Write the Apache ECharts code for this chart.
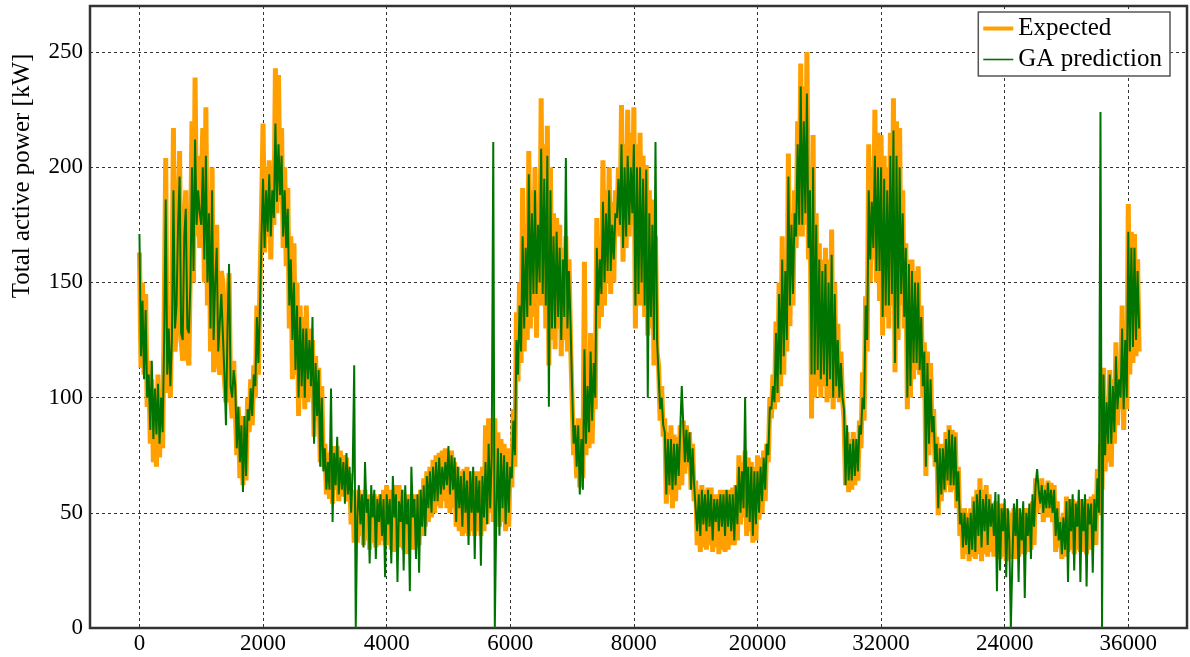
<!DOCTYPE html>
<html>
<head>
<meta charset="utf-8">
<script src="https://cdn.jsdelivr.net/npm/echarts@6/dist/echarts.min.js"></script>
<style>
  html, body { margin: 0; padding: 0; background: #fff; }
  #chart { width: 1190px; height: 657px; }
</style>
</head>
<body>
<div id="chart"></div>
<script>
// sample spacing on the x axis
var step = 25;

var expected = [
  163,113,150,110,145,96,116,80,108,72,102,70,110,74,100,78,135,204,102,140,
  100,140,217,120,130,180,207,125,116,175,190,118,114,160,220,150,239,170,205,165,
  165,217,150,226,140,190,120,200,111,160,175,115,110,155,150,108,98,140,154,100,
  91,116,95,75,96,65,92,62,90,64,100,85,108,88,114,100,140,110,150,180,
  219,163,200,170,203,160,195,175,243,180,240,185,217,165,200,157,191,130,170,108,
  167,110,150,92,140,100,135,95,140,98,130,100,125,83,118,90,113,72,105,70,
  80,58,76,56,77,54,79,60,79,55,77,57,75,58,74,55,67,45,60,37,
  55,37,60,40,58,36,60,38,58,34,57,37,58,35,57,36,58,38,60,36,
  62,36,60,34,60,33,62,36,62,35,60,34,58,32,58,35,57,34,58,35,
  56,36,60,40,65,44,68,46,70,48,73,50,75,53,76,52,77,55,78,52,
  75,50,77,52,72,44,70,42,68,40,69,41,70,40,68,42,66,40,68,42,
  68,40,70,42,88,45,91,50,86,46,91,45,85,44,82,46,80,42,78,44,
  78,61,95,70,137,107,150,115,191,120,175,125,207,130,190,135,200,126,185,140,
  230,140,210,130,218,114,200,125,180,121,178,130,175,118,165,125,170,120,160,125,
  100,75,85,65,91,61,85,65,159,75,110,78,128,80,120,95,178,130,170,135,
  203,140,190,150,200,145,185,150,190,173,200,170,227,159,210,165,225,170,215,175,
  226,130,210,140,215,140,205,135,201,127,190,130,186,114,170,120,114,90,105,83,
  91,54,85,58,88,52,84,55,83,60,88,62,90,67,88,70,85,60,80,55,
  64,36,60,33,62,35,60,34,61,36,61,33,58,35,58,32,60,34,60,33,
  58,34,60,36,61,36,62,38,75,45,72,48,77,40,74,42,72,37,70,38,
  75,47,74,50,77,55,80,72,100,91,110,95,133,98,150,105,170,110,160,120,
  206,131,180,140,190,165,220,170,245,170,235,175,250,160,200,91,214,100,180,105,
  167,100,160,105,165,98,160,100,173,95,150,100,132,98,120,100,91,62,85,59,
  82,60,85,62,80,64,90,78,111,90,144,120,210,150,200,160,225,150,215,142,
  214,127,205,135,200,130,215,140,230,111,220,125,217,140,190,130,167,95,160,100,
  160,108,155,112,157,110,140,100,124,66,120,75,115,83,95,70,83,49,80,55,
  80,59,85,62,88,59,86,60,85,52,70,40,52,30,52,32,50,29,52,31,
  57,30,60,32,65,29,60,32,62,31,58,33,54,31,55,32,52,30,54,31,
  52,29,51,30,50,31,52,30,52,31,50,32,50,32,52,33,52,34,55,36,
  65,50,64,52,65,46,62,48,64,48,63,46,62,33,55,35,48,30,50,31,
  57,33,55,34,56,32,55,34,55,33,56,33,55,32,56,34,57,37,58,36,
  69,49,80,60,113,68,100,72,112,70,108,80,124,88,110,95,140,86,130,95,
  184,110,172,115,171,118,160,120
];

var gaPrediction = [
  171,118,142,108,138,100,110,86,116,82,104,84,106,80,100,85,125,186,110,130,
  105,125,190,130,140,175,196,128,125,170,182,130,128,150,200,155,212,175,190,180,
  175,200,160,205,150,180,130,190,125,150,165,120,120,145,145,110,88,130,158,105,
  100,112,105,78,96,72,88,59,92,66,95,90,104,92,110,105,135,115,140,170,
  195,165,190,172,197,170,190,178,219,185,210,188,205,170,190,165,182,140,160,125,
  150,112,140,100,135,105,130,100,130,108,125,105,135,80,115,92,112,70,100,68,
  78,60,72,60,104,46,76,62,83,58,74,60,72,54,76,58,70,50,68,114,
  0,48,62,45,58,35,72,50,56,28,62,48,60,30,56,46,58,40,56,22,
  58,45,56,28,66,48,58,20,55,46,60,25,62,45,56,16,70,48,56,30,
  58,24,60,44,62,40,66,52,68,50,70,55,72,55,74,58,70,60,72,62,
  79,58,75,60,74,46,70,52,66,44,68,50,64,36,68,50,70,30,66,50,
  64,27,66,48,72,45,80,52,75,211,0,50,78,40,76,52,75,45,72,50,
  70,65,90,75,125,110,140,120,170,130,165,135,197,140,180,145,190,145,175,150,
  208,145,195,140,205,96,190,130,170,130,172,135,165,125,160,135,204,130,155,132,
  105,80,88,70,88,58,82,60,121,80,105,85,120,90,115,100,165,140,160,145,
  185,150,180,155,190,155,175,160,180,178,195,175,210,165,200,170,205,175,200,180,
  210,140,200,145,200,150,195,140,199,100,180,135,175,125,211,125,110,95,100,88,
  85,58,82,62,82,60,80,62,80,66,86,105,88,72,86,72,85,60,78,62,
  62,42,58,40,60,45,58,42,60,44,58,38,56,46,56,42,58,44,58,40,
  60,44,58,42,58,38,62,45,70,50,68,52,100,48,70,46,70,40,68,45,
  68,50,70,55,74,60,80,75,96,95,105,98,128,102,145,110,160,118,155,125,
  196,140,175,145,180,170,210,175,235,175,220,180,232,165,190,110,200,110,175,112,
  160,108,155,110,158,105,150,108,162,100,145,105,125,100,115,100,95,62,88,64,
  80,64,82,66,82,68,88,84,100,95,140,125,190,160,185,165,205,155,200,155,
  200,135,195,140,190,140,205,145,216,115,205,130,200,145,180,135,165,100,158,105,
  155,115,150,115,150,112,135,105,120,70,115,80,108,85,92,72,80,52,78,58,
  78,60,82,64,86,62,84,62,83,55,68,45,50,35,50,36,48,32,50,34,
  55,33,58,40,60,35,56,42,58,36,56,44,54,40,59,16,58,25,52,42,
  56,22,52,38,0,30,54,40,56,20,52,38,55,13,50,40,54,30,58,44,
  62,69,60,54,62,50,60,52,63,52,60,50,60,40,52,38,46,32,48,34,
  55,20,56,42,58,25,54,44,60,20,56,42,58,18,54,45,54,24,56,42,
  65,50,224,0,110,75,98,80,110,80,105,85,118,95,108,100,130,95,125,100,
  172,120,165,122,165,125,155,130
];

// x tick positions and the text printed under them
var xTickValues = [0, 2000, 4000, 6000, 8000, 10000, 12000, 14000, 16000];
var xTickLabels = ['0', '2000', '4000', '6000', '8000', '20000', '32000', '24000', '36000'];

function toPairs(arr) {
  return arr.map(function (v, i) { return [i * step, v]; });
}

var font = 'Liberation Serif';
var chart = echarts.init(document.getElementById('chart'));

var gridLine = { show: true, lineStyle: { color: '#333', width: 1, type: [3, 3] } };

var option = {
  animation: false,
  backgroundColor: '#fff',
  grid: {
    left: 90, right: 3, top: 6, bottom: 29,
    show: true, borderColor: '#333', borderWidth: 2.5, backgroundColor: 'transparent'
  },
  legend: {
    orient: 'vertical',
    right: 20,
    top: 12,
    backgroundColor: '#fff',
    borderColor: '#555',
    borderWidth: 1.5,
    padding: [4, 8, 4, 5],
    itemGap: 6,
    itemWidth: 30,
    itemHeight: 14,
    textStyle: { fontFamily: font, fontSize: 25, color: '#000' },
    data: [
      { name: 'Expected', icon: 'path://M0,0L30,0L30,4L0,4Z' },
      { name: 'GA prediction', icon: 'path://M0,0L30,0L30,1.6L0,1.6Z' }
    ]
  },
  xAxis: {
    type: 'value',
    min: -800,
    max: 16950,
    axisLine: { show: false },
    axisTick: { show: false, customValues: xTickValues },
    axisLabel: {
      customValues: xTickValues,
      margin: 4,
      color: '#000',
      fontFamily: font,
      fontSize: 23,
      formatter: function (v) {
        var k = xTickValues.indexOf(v);
        return k >= 0 ? xTickLabels[k] : '';
      }
    },
    splitLine: gridLine
  },
  yAxis: {
    type: 'value',
    min: 0,
    max: 270,
    interval: 50,
    axisLine: { show: false },
    axisTick: { show: false },
    axisLabel: { showMaxLabel: false, margin: 7, color: '#000', fontFamily: font, fontSize: 23 },
    splitLine: gridLine
  },
  graphic: [{
    type: 'text',
    x: 22,
    y: 176,
    rotation: Math.PI / 2,
    style: {
      text: 'Total active power [kW]',
      font: '25px "Liberation Serif"',
      fill: '#000',
      align: 'center',
      verticalAlign: 'middle'
    }
  }],
  series: [
    {
      name: 'Expected',
      type: 'line',
      symbol: 'none',
      data: toPairs(expected),
      lineStyle: { color: '#ffa000', width: 5 },
      itemStyle: { color: '#ffa000' },
      z: 2
    },
    {
      name: 'GA prediction',
      type: 'line',
      symbol: 'none',
      data: toPairs(gaPrediction),
      lineStyle: { color: '#007400', width: 2 },
      itemStyle: { color: '#007400' },
      z: 3
    }
  ]
};

chart.setOption(option);
</script>
</body>
</html>
